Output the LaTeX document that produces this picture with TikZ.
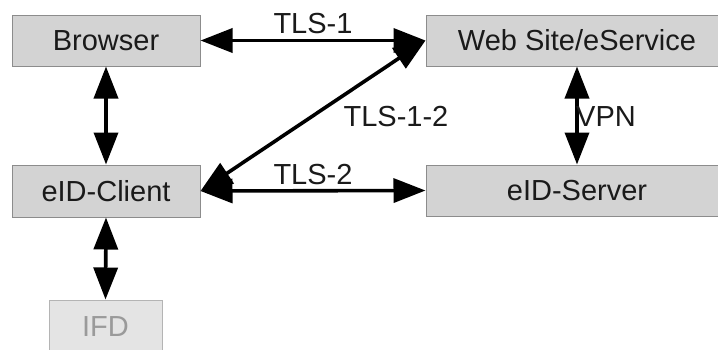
\documentclass[tikz,border=0pt]{standalone}
\usepackage{fontspec}
\setmainfont{Liberation Sans}
\usetikzlibrary{arrows.meta}
\definecolor{boxfill}{RGB}{211,211,211}
\definecolor{boxline}{RGB}{140,140,140}
\definecolor{txt}{RGB}{26,26,26}
\definecolor{ifdfill}{RGB}{228,228,228}
\definecolor{ifdline}{RGB}{180,180,180}
\definecolor{ifdtxt}{RGB}{154,154,154}
\tikzset{
  bigfont/.style={font=\fontsize{29}{34}\selectfont},
  box/.style={draw=boxline, line width=1pt, fill=boxfill, text=txt, bigfont, inner sep=0pt},
  ifdbox/.style={draw=ifdline, line width=1pt, fill=ifdfill, text=ifdtxt, bigfont, inner sep=0pt},
  lbl/.style={text=txt, bigfont, inner sep=0pt, anchor=base},
  conn/.style={line width=3.6pt, black, {Triangle[length=32pt,width=24pt]}-{Triangle[length=32pt,width=24pt]}}
}
\begin{document}
\begin{tikzpicture}[x=1pt,y=-1pt]
\useasboundingbox[fill=white] (0,0) rectangle (718,349);
\node[box, minimum width=188pt, minimum height=51pt] (b) at (106,40.5) {Browser};
\node[box, minimum width=302pt, minimum height=51pt] (w) at (577,40.5) {Web Site/eService};
\node[box, minimum width=188pt, minimum height=52pt] (c) at (106,191) {eID-Client};
\node[box, minimum width=302pt, minimum height=51pt] (s) at (577,190.5) {eID-Server};
\node[ifdbox, minimum width=113pt, minimum height=54pt] (i) at (105.5,327) {IFD};
\draw[conn] (b.east) -- (w.west);
\draw[conn] (c.east) -- (w.west);
\draw[conn] (c.east) -- (s.west);
\draw[conn] (b.south) -- (c.north);
\draw[conn] (c.south) -- (i.north);
\draw[conn] (w.south) -- (s.north);
\node[lbl] (l1) at (313,33) {TLS-1};
\node[lbl] (l2) at (313,184) {TLS-2};
\node[lbl] (l12) at (396,126) {TLS-1-2};
\node[lbl, anchor=base west] (vpn) at (576,126) {VPN};
\end{tikzpicture}
\end{document}
